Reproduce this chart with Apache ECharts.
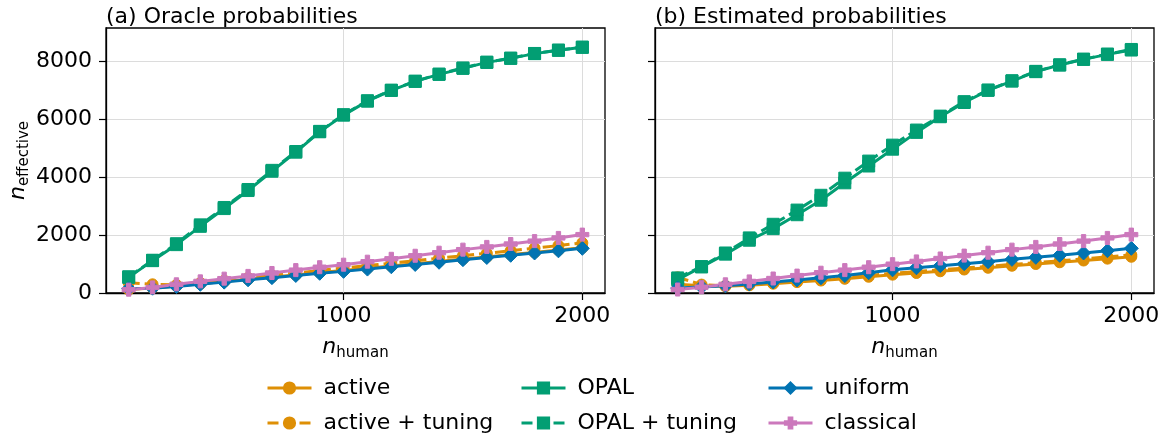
<!DOCTYPE html>
<html>
<head>
<meta charset="utf-8">
<script src="https://cdn.jsdelivr.net/npm/echarts@6/dist/echarts.min.js"></script>
<style>
  html, body { margin: 0; padding: 0; background: #fff; }
  #chart { width: 1164px; height: 436px; }
</style>
</head>
<body>
<div id="chart"></div>
<script>
// Number of human labels on the x axis
const nHuman = [100, 200, 300, 400, 500, 600, 700, 800, 900, 1000,
                1100, 1200, 1300, 1400, 1500, 1600, 1700, 1800, 1900, 2000];

// (a) Oracle probabilities
const activeA    = [120, 175, 240, 315, 395, 470, 550, 625, 705, 775, 855, 930, 1010, 1090, 1170, 1245, 1325, 1400, 1480, 1560];
const activeTunA = [350, 300, 280, 345, 430, 520, 605, 690, 775, 863, 945, 1030, 1115, 1200, 1285, 1370, 1460, 1545, 1635, 1727];
const opalA      = [539, 1116, 1668, 2300, 2912, 3534, 4200, 4857, 5561, 6135, 6618, 6988, 7299, 7540, 7748, 7955, 8093, 8256, 8370, 8473];
const opalTunA   = [560, 1130, 1700, 2350, 2950, 3570, 4230, 4880, 5575, 6150, 6630, 6995, 7305, 7550, 7760, 7960, 8100, 8262, 8378, 8480];
const uniformA   = [150, 165, 225, 300, 375, 455, 530, 605, 680, 746, 825, 905, 985, 1060, 1150, 1225, 1300, 1380, 1455, 1540];
const classicalA = [115, 193, 300, 401, 495, 590, 690, 790, 890, 977, 1080, 1180, 1285, 1390, 1496, 1590, 1690, 1790, 1900, 2014];

// (b) Estimated probabilities
const activeB    = [300, 250, 230, 265, 320, 375, 430, 490, 560, 632, 690, 750, 810, 870, 940, 1000, 1060, 1120, 1185, 1250];
const activeTunB = [540, 290, 250, 295, 350, 410, 470, 535, 605, 680, 740, 800, 860, 920, 985, 1045, 1110, 1175, 1245, 1315];
const opalB      = [459, 900, 1340, 1820, 2220, 2700, 3200, 3800, 4380, 4960, 5540, 6080, 6570, 6990, 7310, 7634, 7862, 8058, 8231, 8380];
const opalTunB   = [520, 910, 1380, 1900, 2370, 2860, 3370, 3960, 4550, 5100, 5620, 6100, 6600, 7000, 7320, 7645, 7870, 8065, 8240, 8400];
const uniformB   = [170, 210, 250, 310, 380, 450, 525, 600, 700, 800, 870, 940, 1010, 1080, 1160, 1230, 1300, 1380, 1460, 1541];
const classicalB = [120, 200, 300, 400, 500, 600, 700, 790, 890, 995, 1090, 1190, 1290, 1390, 1496, 1590, 1690, 1790, 1900, 2014];

// Axis ticks
const xTicks = [1000, 2000];
const yTicks = [0, 2000, 4000, 6000, 8000];

const panelTitles = ['(a) Oracle probabilities', '(b) Estimated probabilities'];

const FONT = 'DejaVu Sans';
const FS = 22;
const C_ORANGE = '#DE8F05', C_GREEN = '#029E73', C_BLUE = '#0173B2', C_PINK = '#CC78BC';
const PLUS = 'path://M4,0H8V4H12V8H8V12H4V8H0V4H4Z';

const styles = {
  'active':          { color: C_ORANGE, symbol: 'circle', size: 11, dashed: false },
  'active + tuning': { color: C_ORANGE, symbol: 'circle', size: 11, dashed: true },
  'OPAL':            { color: C_GREEN, symbol: 'rect', size: 12, dashed: false },
  'OPAL + tuning':   { color: C_GREEN, symbol: 'rect', size: 12, dashed: true },
  'uniform':         { color: C_BLUE, symbol: 'diamond', size: 14, dashed: false },
  'classical':       { color: C_PINK, symbol: PLUS, size: 13, dashed: false }
};

const panels = [
  { 'active': activeA, 'active + tuning': activeTunA, 'OPAL': opalA, 'OPAL + tuning': opalTunA, 'uniform': uniformA, 'classical': classicalA },
  { 'active': activeB, 'active + tuning': activeTunB, 'OPAL': opalB, 'OPAL + tuning': opalTunB, 'uniform': uniformB, 'classical': classicalB }
];

const order = ['active', 'active + tuning', 'OPAL', 'OPAL + tuning', 'uniform', 'classical'];

const series = [];
panels.forEach((p, gi) => {
  order.forEach(name => {
    const s = styles[name];
    series.push({
      name: name,
      type: 'line',
      xAxisIndex: gi,
      yAxisIndex: gi,
      data: nHuman.map((x, i) => [x, p[name][i]]),
      symbol: s.symbol,
      symbolSize: s.size,
      showSymbol: true,
      animation: false,
      lineStyle: { color: s.color, width: 3, type: s.dashed ? [11, 5] : 'solid' },
      itemStyle: { color: s.color, borderColor: s.color, borderWidth: 1 }
    });
  });
});

const gridW = 499, gridH = 265;
const grids = [
  { left: 106, top: 28, width: gridW, height: gridH, show: true, borderColor: '#000', borderWidth: 1.3, backgroundColor: 'transparent' },
  { left: 655, top: 28, width: gridW, height: gridH, show: true, borderColor: '#000', borderWidth: 1.3, backgroundColor: 'transparent' }
];

const subName = {
  n: { fontFamily: FONT, fontSize: 22, fontStyle: 'italic', color: '#000', lineHeight: 28, verticalAlign: 'middle' },
  s: { fontFamily: FONT, fontSize: 15, color: '#000', lineHeight: 28, verticalAlign: 'bottom' }
};

const plain = v => String(v);

const xAxes = [0, 1].map(i => ({
  type: 'value', gridIndex: i, min: 5, max: 2095,
  name: '{n|n}{s|human}', nameLocation: 'middle', nameGap: 40,
  nameTextStyle: { rich: subName },
  axisLine: { show: true, lineStyle: { color: '#000', width: 1.3 } },
  axisTick: { show: true, length: 7, inside: false, customValues: xTicks, lineStyle: { color: '#000', width: 1.2 } },
  axisLabel: { show: true, customValues: xTicks, formatter: plain, margin: 12, fontFamily: FONT, fontSize: FS, color: '#000' },
  splitLine: { show: true, lineStyle: { color: '#dcdcdc', width: 1 } }
}));

const yAxes = [0, 1].map(i => ({
  type: 'value', gridIndex: i, min: 0, max: 9140,
  name: i === 0 ? '{n|n}{s|effective}' : '', nameLocation: 'middle', nameGap: 74, nameRotate: 90,
  nameTextStyle: { rich: subName },
  axisLine: { show: true, lineStyle: { color: '#000', width: 1.3 } },
  axisTick: { show: true, length: 7, customValues: yTicks, lineStyle: { color: '#000', width: 1.2 } },
  axisLabel: { show: i === 0, customValues: yTicks, formatter: plain, margin: 14, fontFamily: FONT, fontSize: FS, color: '#000' },
  splitLine: { show: true, lineStyle: { color: '#dcdcdc', width: 1 } }
}));

const legendBase = {
  orient: 'vertical', top: 377, height: 59, itemWidth: 44, itemHeight: 14, itemGap: 13,
  padding: 0,
  lineStyle: { width: 3 },
  textStyle: { fontFamily: FONT, fontSize: FS, lineHeight: 21, color: '#000', padding: [0, 0, 0, 7] },
  selectedMode: false
};

const option = {
  backgroundColor: '#fff',
  animation: false,
  title: panelTitles.map((t, i) => ({
    text: t, left: i === 0 ? 106 : 655, top: 6, padding: 0,
    textStyle: { fontFamily: FONT, fontSize: FS, fontWeight: 'normal', color: '#000' }
  })),
  grid: grids,
  xAxis: xAxes,
  yAxis: yAxes,
  legend: [
    Object.assign({}, legendBase, { left: 266, data: ['active', 'active + tuning'] }),
    Object.assign({}, legendBase, { left: 520, data: ['OPAL', 'OPAL + tuning'] }),
    Object.assign({}, legendBase, { left: 767, data: ['uniform', 'classical'] })
  ],
  series: series
};

const chart = echarts.init(document.getElementById('chart'), null, { renderer: 'canvas' });
chart.setOption(option);
</script>
</body>
</html>
